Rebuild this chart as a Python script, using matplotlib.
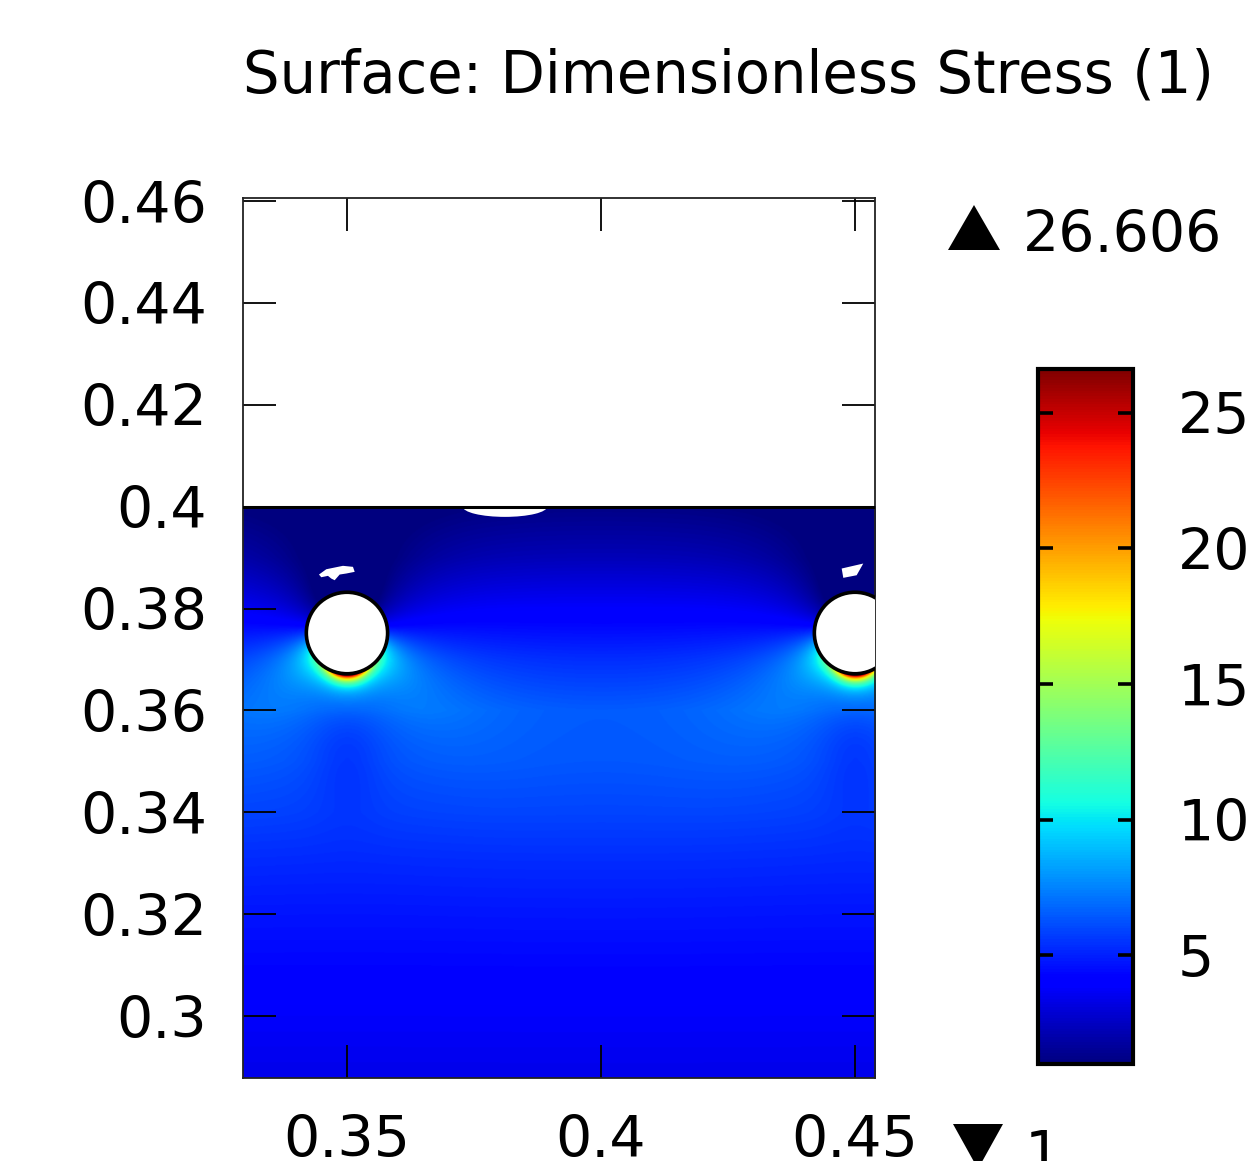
import numpy as np
import matplotlib
matplotlib.use("Agg")
import matplotlib.pyplot as plt
from matplotlib.patches import Circle, Polygon, Ellipse

# ---------------- data ----------------
title_text = "Surface: Dimensionless Stress (1)"
vmin, vmax = 1.0, 26.606
x_ticks = [0.35, 0.40, 0.45]
x_tick_labels = ["0.35", "0.4", "0.45"]
y_ticks = [0.30, 0.32, 0.34, 0.36, 0.38, 0.40, 0.42, 0.44, 0.46]
y_tick_labels = ["0.3", "0.32", "0.34", "0.36", "0.38", "0.4", "0.42", "0.44", "0.46"]
cbar_ticks = [5, 10, 15, 20, 25]
xlim = (0.32953, 0.45394)
ylim = (0.28783, 0.46062)
domain_top = 0.40

hole_x = [0.35, 0.45]
hole_y = [0.3752, 0.3752]
hole_r = 0.0080

# stress level down the middle of the plate (y, value)
profile_y = [0.2878, 0.30, 0.31, 0.32, 0.33, 0.34, 0.35, 0.36, 0.37, 0.38, 0.39, 0.40]
profile_v = [3.4, 3.8, 4.3, 4.7, 5.2, 5.8, 6.2, 6.3, 5.2, 3.8, 2.3, 1.2]

# concentration terms around each hole: amplitude, angle (deg), angular width, decay length
hot_term = (22.0, -90.0, 28.0, 0.0009)
fan_term = (8.5, -90.0, 58.0, 0.0032)
lobe_terms = [(3.2, -30.0, 30.0, 0.014), (3.2, -150.0, 30.0, 0.014)]
shadow_term = (-4.0, 90.0, 70.0, 0.010)

# blank (unplotted) patches
top_patch = (0.3811, 0.4000, 0.0166, 0.0040)   # ellipse centre x, y, width, height
left_patch_x = [0.34449, 0.34593, 0.34921, 0.35118, 0.35152, 0.34986, 0.34856,
                0.34758, 0.34691, 0.34626, 0.34494]
left_patch_y = [0.38668, 0.38772, 0.38839, 0.38819, 0.38721, 0.38688, 0.38668,
                0.38556, 0.38589, 0.38642, 0.38615]
right_patch_x = [0.44738, 0.45163, 0.45033, 0.44770]
right_patch_y = [0.38786, 0.38884, 0.38654, 0.38603]

# ---------------- field ----------------
nx, ny = 900, 800
xs = np.linspace(xlim[0], xlim[1], nx)
ys = np.linspace(ylim[0], domain_top, ny)
X, Y = np.meshgrid(xs, ys)
V = np.interp(Y, profile_y, profile_v)


def ang_gauss(th, c, w):
    d = (th - c + 180.0) % 360.0 - 180.0
    return np.exp(-(d / w) ** 2)


inside = np.zeros_like(X, dtype=bool)
for cx, cy in zip(hole_x, hole_y):
    dx, dy = X - cx, Y - cy
    r = np.hypot(dx, dy)
    th = np.degrees(np.arctan2(dy, dx))
    d = np.clip(r - hole_r, 0, None)
    inside |= r < hole_r
    for amp, c, w, l in [hot_term, fan_term, shadow_term] + lobe_terms:
        V += amp * ang_gauss(th, c, w) * np.exp(-d / l)
    # slightly calmer column right under each hole
    V -= 0.7 * np.exp(-((X - cx) / 0.007) ** 2) * np.exp(-((Y - 0.352) / 0.012) ** 2)

V = np.clip(V, vmin, vmax)
V = np.ma.masked_array(V, mask=inside)

# ---------------- figure ----------------
plt.rcParams['font.family'] = ['DejaVu Sans']
fig = plt.figure(figsize=(12.57, 11.61), dpi=100)
ax = fig.add_axes([0.1933, 0.0715, 0.5028, 0.7580])

im = ax.imshow(V, extent=(xs[0], xs[-1], ys[0], ys[-1]), origin='lower',
               cmap='jet', vmin=vmin, vmax=vmax, aspect='auto',
               interpolation='bilinear', zorder=1)

# blank patches
ax.add_patch(Ellipse((top_patch[0], top_patch[1]), top_patch[2], top_patch[3],
                     facecolor='white', edgecolor='none', zorder=2))
ax.add_patch(Polygon(np.column_stack([left_patch_x, left_patch_y]), closed=True,
                     facecolor='white', edgecolor='none', zorder=2))
ax.add_patch(Polygon(np.column_stack([right_patch_x, right_patch_y]), closed=True,
                     facecolor='white', edgecolor='none', zorder=2))

# holes and top boundary
for cx, cy in zip(hole_x, hole_y):
    ax.add_patch(Circle((cx, cy), hole_r, facecolor='white', edgecolor='black',
                        linewidth=2.6, zorder=3))
ax.axhline(domain_top, color='black', linewidth=2.2, zorder=4)

ax.set_xlim(*xlim)
ax.set_ylim(*ylim)
ax.set_xticks(x_ticks)
ax.set_xticklabels(x_tick_labels)
ax.set_yticks(y_ticks)
ax.set_yticklabels(y_tick_labels)
ax.tick_params(axis='both', direction='in', length=24, width=1.3, color='black',
               labelsize=41, top=True, right=True)
ax.tick_params(axis='x', pad=26)
ax.tick_params(axis='y', pad=26)
for s in ax.spines.values():
    s.set_linewidth(1.3)
    s.set_color('#222222')

# colorbar
cax = fig.add_axes([0.8258, 0.0835, 0.0756, 0.5987])
cb = fig.colorbar(im, cax=cax, ticks=cbar_ticks)
cb.outline.set_linewidth(3.0)
cax.tick_params(direction='in', length=11, width=2.6, labelsize=41, pad=32,
                left=True, right=True)
cax.set_yticklabels([str(t) for t in cbar_ticks])

# title and range annotations
fig.text(243 / 1257, 1 - 93 / 1161, title_text, fontsize=41.5, ha='left', va='baseline')
fig.text(1023 / 1257, 1 - 252 / 1161, f"{vmax:.3f}", fontsize=41, ha='left', va='baseline')
fig.text(1025 / 1257, 1 - 1172 / 1161, f"{vmin:.0f}", fontsize=41, ha='left', va='baseline')
up = Polygon([[948 / 1257, 1 - 250 / 1161], [1000 / 1257, 1 - 250 / 1161],
              [974 / 1257, 1 - 205 / 1161]], closed=True, transform=fig.transFigure,
             facecolor='black', edgecolor='none')
down = Polygon([[953 / 1257, 1 - 1124 / 1161], [1003 / 1257, 1 - 1124 / 1161],
                [978 / 1257, 1 - 1169 / 1161]], closed=True, transform=fig.transFigure,
               facecolor='black', edgecolor='none')
fig.add_artist(up)
fig.add_artist(down)

fig.savefig("out.png", dpi=100)
